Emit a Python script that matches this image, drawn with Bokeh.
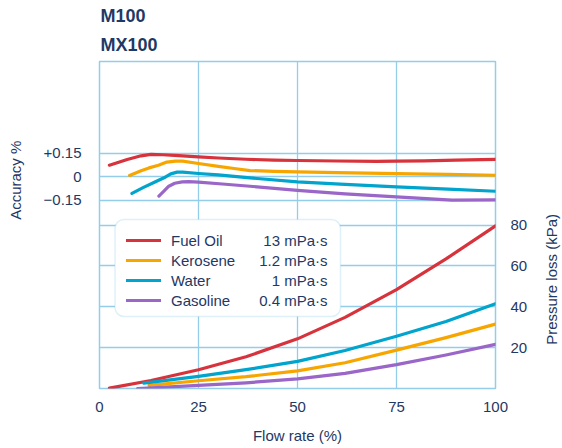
from bokeh.plotting import figure
from bokeh.layouts import row
from bokeh.models import (Range1d, LinearAxis, FixedTicker, Grid, Legend, LegendItem,
                          BoxAnnotation, Title, Label, LabelSet, CustomJSTickFormatter,
                          ColumnDataSource)
from bokeh.core.properties import value
from bokeh.embed import file_html
from bokeh.resources import INLINE

# ---------------- data ----------------
fluids = ["Fuel Oil", "Kerosene", "Water", "Gasoline"]
viscosity = ["13 mPa\u00b7s", "1.2 mPa\u00b7s", "1 mPa\u00b7s", "0.4 mPa\u00b7s"]
colors = ["#d7333c", "#f7a600", "#00a4cc", "#9a66c8"]

# accuracy curves (flow %, accuracy %)
acc_fuel_x = [2.5, 7, 10.5, 13, 16, 20, 25, 30, 37, 44, 50, 60, 70, 75, 82, 90, 100]
acc_fuel_y = [0.075, 0.112, 0.135, 0.144, 0.142, 0.136, 0.128, 0.121, 0.113, 0.108,
              0.105, 0.102, 0.100, 0.101, 0.103, 0.107, 0.112]
acc_kero_x = [7.6, 10.5, 12.5, 14.9, 17, 19.2, 21, 25, 30, 34, 38, 44, 50, 60, 75, 88, 100]
acc_kero_y = [0.010, 0.040, 0.058, 0.075, 0.095, 0.101, 0.101, 0.086, 0.068, 0.054,
              0.041, 0.036, 0.033, 0.028, 0.022, 0.017, 0.011]
acc_water_x = [8.2, 11, 14, 16.7, 18, 19.6, 21, 25, 30, 38, 50, 62, 75, 88, 100]
acc_water_y = [-0.105, -0.068, -0.032, 0.0, 0.020, 0.031, 0.031, 0.022, 0.013, -0.006,
               -0.031, -0.047, -0.063, -0.078, -0.091]
acc_gas_x = [15, 16.2, 17.5, 19, 20.9, 22.5, 25, 31, 38, 50, 62, 75, 89, 100]
acc_gas_y = [-0.122, -0.092, -0.059, -0.040, -0.031, -0.030, -0.033, -0.045, -0.059,
             -0.086, -0.108, -0.127, -0.148, -0.146]

# pressure loss curves (flow %, kPa)
dp_fuel_x = [2.5, 13, 25, 37, 50, 62, 75, 87.5, 100]
dp_fuel_y = [0.15, 3.9, 9.2, 15.5, 24.3, 34.8, 48.4, 63.4, 79.6]
dp_water_x = [11.2, 25, 37, 50, 62, 75, 87.5, 100]
dp_water_y = [2.6, 5.9, 9.2, 13.3, 18.6, 25.6, 32.8, 41.5]
dp_kero_x = [12.5, 25, 37, 50, 62, 75, 87.5, 100]
dp_kero_y = [1.5, 3.8, 5.8, 8.6, 12.6, 18.8, 24.9, 31.5]
dp_gas_x = [9.6, 25, 37, 50, 62, 75, 87.5, 100]
dp_gas_y = [0.0, 1.5, 2.8, 4.7, 7.4, 11.7, 16.4, 21.6]

flow_ticks = [0, 25, 50, 75, 100]
acc_ticks = [-0.15, 0, 0.15]
dp_ticks = [20, 40, 60, 80]

titles = ["M100", "MX100"]
x_title = "Flow rate (%)"
acc_title = "Accuracy %"
dp_title = "Pressure loss (kPa)"

# ---------------- style ----------------
NAVY = "#1f3864"
GRID = "#93cde9"
FONT = "Liberation Sans"

FRAME_W, FRAME_H = 396, 327
FRAME_TOP, FRAME_BOTTOM = 61, 388          # page pixels
DP_MAX = 160.0
ACC_LO, ACC_HI = -1.350, 0.737
STRIP_L, STRIP_R, STRIP_H = 30, 32, 440
RIGHT_BORDER = 33


def xd(px):  # page px -> flow %
    return (px - 99) / FRAME_W * 100.0


def yd(py):  # page px -> kPa
    return (FRAME_BOTTOM - py) / FRAME_H * DP_MAX


p = figure(frame_width=FRAME_W, frame_height=FRAME_H,
           x_range=Range1d(0, 100), y_range=Range1d(0, DP_MAX),
           y_axis_location="right", output_backend="svg", toolbar_location=None,
           min_border_left=99 - STRIP_L, min_border_right=RIGHT_BORDER,
           min_border_top=FRAME_TOP, min_border_bottom=30,
           background_fill_color="white", border_fill_color="white")
p.align = "start"
p.title.visible = False
p.extra_y_ranges = {"acc": Range1d(ACC_LO, ACC_HI)}
p.outline_line_color = GRID
p.outline_line_width = 1.5

# grids
p.xgrid.ticker = FixedTicker(ticks=[25, 50, 75])
p.ygrid.ticker = FixedTicker(ticks=dp_ticks)
for g in (p.xgrid, p.ygrid):
    g.grid_line_color = GRID
    g.grid_line_width = 1.3
acc_grid = Grid(dimension=1, y_range_name="acc", ticker=FixedTicker(ticks=acc_ticks),
                grid_line_color=GRID, grid_line_width=1.3)
p.add_layout(acc_grid)


# axes
def style_axis(ax, standoff):
    ax.axis_line_color = None
    ax.major_tick_line_color = None
    ax.minor_tick_line_color = None
    ax.major_tick_out = 0
    ax.major_tick_in = 0
    ax.major_label_standoff = standoff
    ax.major_label_text_font = FONT
    ax.major_label_text_font_size = "15px"
    ax.major_label_text_color = NAVY
    ax.axis_label_text_font = FONT
    ax.axis_label_text_font_size = "15px"
    ax.axis_label_text_font_style = "normal"
    ax.axis_label_text_color = NAVY


xa = p.xaxis[0]
xa.ticker = FixedTicker(ticks=flow_ticks)
style_axis(xa, 13)
xa.axis_label = x_title
xa.axis_label_standoff = 12

ra = p.yaxis[0]
ra.ticker = FixedTicker(ticks=dp_ticks)
style_axis(ra, 15)

la = LinearAxis(y_range_name="acc", ticker=FixedTicker(ticks=acc_ticks),
                formatter=CustomJSTickFormatter(code="""
                    if (Math.abs(tick) < 1e-9) { return "0"; }
                    return (tick > 0 ? "+" : "\u2212") + Math.abs(tick).toFixed(2);
                """))
style_axis(la, 18)
p.add_layout(la, "left")

# curves
acc_x = [acc_fuel_x, acc_kero_x, acc_water_x, acc_gas_x]
acc_y = [acc_fuel_y, acc_kero_y, acc_water_y, acc_gas_y]
dp_x = [dp_fuel_x, dp_kero_x, dp_water_x, dp_gas_x]
dp_y = [dp_fuel_y, dp_kero_y, dp_water_y, dp_gas_y]

items = []
for i in range(4):
    p.line(acc_x[i], acc_y[i], y_range_name="acc", line_color=colors[i],
           line_width=3.2, line_join="round", line_cap="round")
    r = p.line(dp_x[i], dp_y[i], line_color=colors[i], line_width=3.2,
               line_join="round", line_cap="round")
    items.append(LegendItem(label=fluids[i], renderers=[r]))

# legend box
box = BoxAnnotation(left=xd(114.5), right=xd(340), top=yd(219), bottom=yd(316),
                    fill_color="white", fill_alpha=1.0, line_color=GRID,
                    line_width=1.5, border_radius=9)
p.add_layout(box)

legend = Legend(items=items, location=(27, 78), orientation="vertical",
                glyph_width=35, glyph_height=20, spacing=0, padding=10, margin=0,
                label_standoff=10, label_height=20,
                label_text_font=FONT, label_text_font_size="15px",
                label_text_color=NAVY, background_fill_alpha=0,
                border_line_color=None)
p.add_layout(legend)

row_y = [yd(239.5 + 20.3 * i) for i in range(4)]
vis_src = ColumnDataSource(dict(x=[xd(327)] * 4, y=row_y, text=viscosity))
p.add_layout(LabelSet(x="x", y="y", text="text", source=vis_src,
                      text_align="right", text_baseline="middle",
                      text_font=value(FONT), text_font_size=value("15px"),
                      text_color=NAVY))

# titles (nearest to the frame added first)
p.add_layout(Title(text=titles[1], align="left", offset=1, text_font=FONT,
                   text_font_size="18px", text_font_style="bold",
                   text_color=NAVY, standoff=14), "above")
p.add_layout(Title(text=titles[0], align="left", offset=1, text_font=FONT,
                   text_font_size="18px", text_font_style="bold",
                   text_color=NAVY, standoff=0), "above")


# side strips carrying the rotated axis titles; their frames line up with the
# main frame, so their y range is expressed in page pixels of that frame
def strip(width, text, cx, cy):
    s = figure(width=width, height=STRIP_H, x_range=Range1d(0, width),
               y_range=Range1d(FRAME_BOTTOM, FRAME_TOP),
               x_axis_type=None, y_axis_type=None,
               output_backend="svg", toolbar_location=None, min_border=0,
               background_fill_color="white", border_fill_color="white")
    s.align = "start"
    s.title.visible = False
    s.outline_line_color = None
    s.add_layout(Label(x=cx, y=cy, text=text, angle=1.5707963,
                       text_font=FONT, text_font_size="15px", text_color=NAVY,
                       text_align="center", text_baseline="middle"))
    return s


left_strip = strip(STRIP_L, acc_title, 15, 182)
right_strip = strip(STRIP_R, dp_title, 21, 283)

layout = row(left_strip, p, right_strip, spacing=0)

open("out.html", "w").write(file_html(layout, INLINE))
